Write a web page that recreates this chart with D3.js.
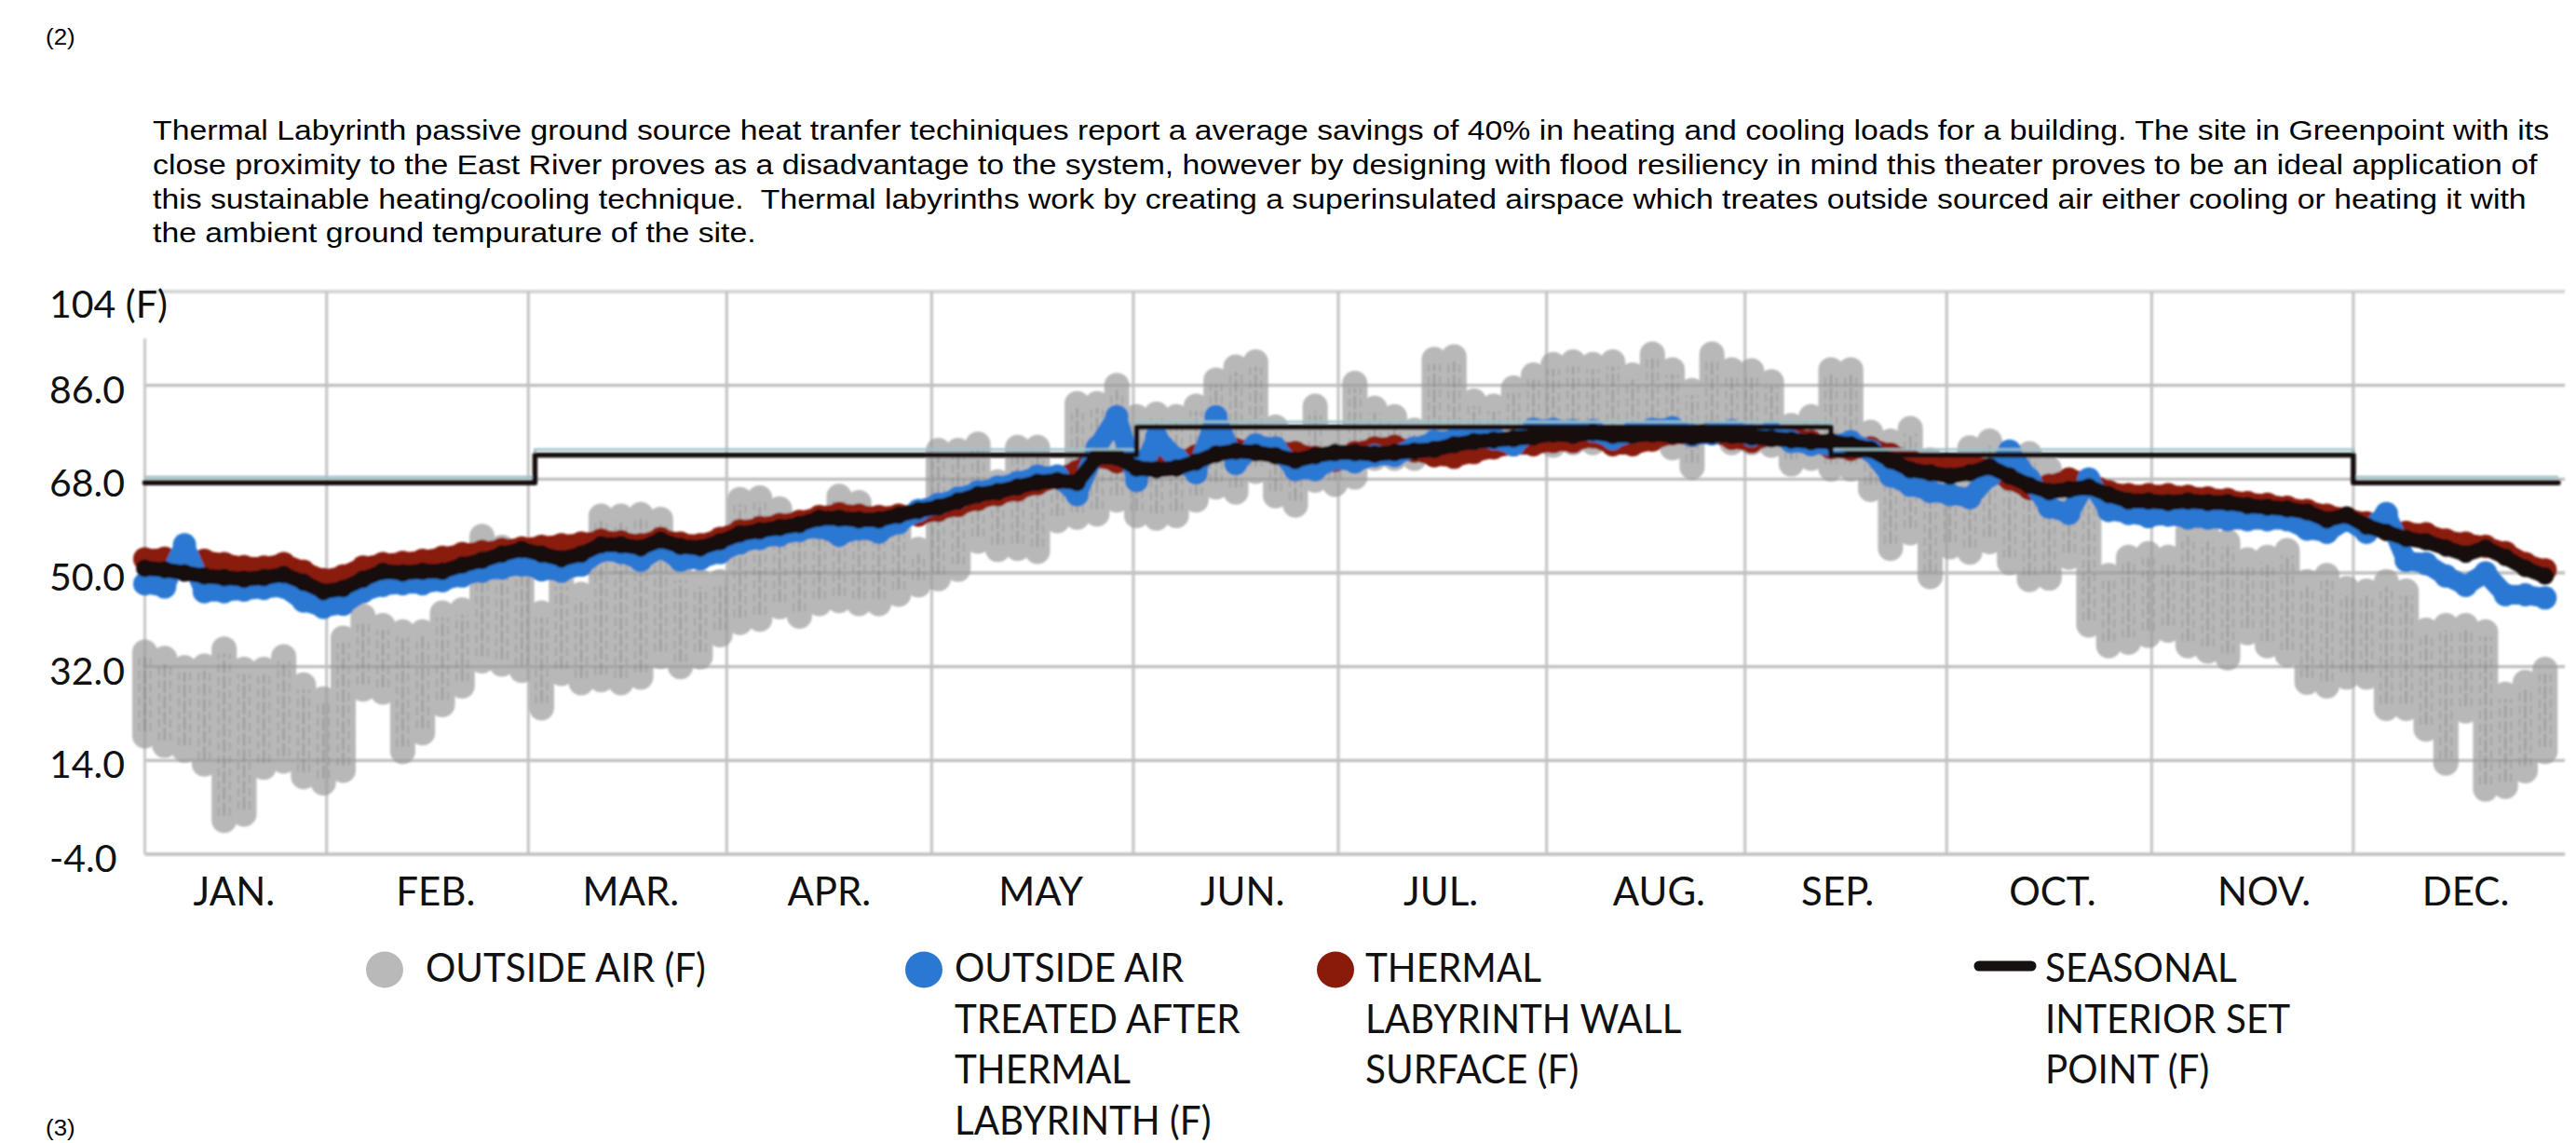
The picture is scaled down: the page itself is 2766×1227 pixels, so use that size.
<!DOCTYPE html>
<html>
<head>
<meta charset="utf-8">
<script src="https://cdn.jsdelivr.net/npm/d3@7"></script>
<style>
  html, body { margin: 0; padding: 0; background: #fff; }
  svg { display: block; }
  .desc { font-family: "Liberation Sans", Arial, sans-serif; font-size: 30px; fill: #000; white-space: pre; }
  .note { font-family: "Liberation Sans", Arial, sans-serif; font-size: 24px; fill: #000; }
  .ylab { font-family: Lato, "Open Sans", sans-serif; font-size: 41px; fill: #111; }
  .mlab { font-family: Lato, "Open Sans", sans-serif; font-size: 42px; fill: #111; }
  .leg  { font-family: Lato, "Open Sans", sans-serif; font-size: 43px; fill: #111; }
</style>
</head>
<body>
<svg id="chart" width="2766" height="1227"></svg>
<script>
// ---- data: one sample every 3 days, Jan 1 .. Dec 29 (°F) ----
const sampleStep = 3;

// outside air: daily extremes per sample
const outsideHigh = [
  34.8, 33.6, 31.8, 32.1, 35.4, 31.5, 31.5, 33.9, 28.5, 25.8, 37.5, 41.7, 39.9, 38.7, 38.7, 42.3, 42.9, 57.0, 54.9, 52.5, 42.3, 48.3, 45.9, 60.9,
  60.9, 61.2, 60.3, 49.5, 48.3, 48.3, 64.1, 64.4, 62.3, 56.9, 60.5, 64.7, 63.5, 57.5, 60.5, 54.5, 73.5, 73.5, 74.7, 67.5, 74.1, 74.1, 67.5, 82.5, 82.5,
  86, 80, 80.5, 80, 82, 87, 89.5, 90.5, 78, 76, 82, 76, 86.4, 81.6, 80, 77.4, 91, 91.5, 83, 82, 85.5, 88, 90, 90.5, 90,
  90.5, 88, 92, 89, 85, 92, 89, 88.8, 86.7, 78.3, 80, 89, 89, 77, 75.3, 77.7, 71.7, 70, 74, 75.3, 72.9, 72.9, 70, 67.5,
  64, 49.5, 53, 53.7, 53, 58, 57, 56, 52.5, 53, 54.3, 48.3, 49.5, 47, 46.5, 48.3, 46.5, 39, 39.9, 39.9, 38.7, 26.7, 29, 31.5
];
const outsideLow = [
  18.7, 16.9, 16.0, 13.3, 2.5, 3.7, 12.7, 13.9, 10.9, 9.7, 12.1, 27.7, 27.1, 15.7, 19.3, 24.7, 28.3, 33.1, 32.5, 31.3, 24.1, 30.7, 28.9, 29.5,
  28.9, 30, 34, 32, 33.9, 38.1, 40.5, 41.1, 43.5, 41.7, 44.1, 44.7, 44.1, 44.1, 45.9, 47.7, 48.9, 50.7, 56.1, 54.5, 54.7, 54.1, 60, 60.7, 61.3,
  64, 61, 60.5, 61, 64, 66.5, 65.5, 69.5, 64.8, 63, 67.8, 67, 68.4, 72, 72, 72, 72.7, 72.5, 74.5, 74.5, 75, 75, 74.5, 75, 75,
  75.7, 76, 76, 74, 70.3, 78, 75, 75, 74.5, 70.9, 72, 70, 70, 66, 54.7, 57.7, 49.3, 55, 54, 56, 52, 48.7, 49, 53,
  40, 36, 36.7, 38, 39, 36, 35, 33.7, 38.5, 36, 34.3, 29, 28.3, 30, 30, 24, 24, 20, 13.5, 23.5, 8.5, 9, 12, 15.7
];

// outside air treated after thermal labyrinth
const treatedAir = [
  47.9, 47.3, 55.4, 46.4, 46.4, 46.7, 47, 47.3, 44.6, 43.4, 44, 46.4, 47.6, 47.9, 47.9, 48.5, 49.4, 50.3, 50.9, 51.5, 50.6, 50.3, 51.5, 54.2,
  53.9, 52.4, 54.8, 52.4, 52.7, 53.9, 55.7, 56.6, 57.2, 58.1, 58.7, 57.2, 58.4, 57.8, 59.6, 62, 63.2, 64.4, 65.6, 66.5, 67.4, 68.6, 68.6, 65, 74,
  80, 67.7, 76, 72, 69.2, 80, 71, 74.6, 74, 69.8, 69.8, 71.9, 71.3, 72.5, 72.5, 74, 75.2, 75.5, 75.8, 75.8, 74.6, 77.6, 77.6, 77.3, 77.3,
  75.8, 77, 77.6, 77.9, 76.4, 76.7, 77.3, 76.4, 77, 75.2, 74.6, 74.6, 75.2, 73.4, 68.6, 66.8, 65.6, 65, 64.4, 68.6, 73.4, 68, 62.6, 61.4,
  68, 62, 61.4, 60.8, 61.1, 60.5, 60.5, 60.2, 60.2, 60.2, 60.2, 58.4, 57.8, 60.2, 57.8, 61.4, 52.4, 51.8, 49.4, 47.6, 50, 45.8, 45.8, 45.2
];

// thermal labyrinth wall surface
const wallSurface = [
  52.7, 52.8, 52.5, 52.4, 51.8, 51.2, 51.1, 51.8, 50.3, 48.7, 49.4, 51.1, 51.8, 52, 52.4, 53, 53.7, 54.1, 54.5, 54.8, 55.1, 55.4, 55.7, 56.3,
  56, 55.4, 56.6, 55.7, 55.4, 56.6, 58.1, 58.7, 59.3, 59.9, 60.8, 61.4, 61.1, 60.8, 61.1, 61.1, 62, 62.9, 64.1, 65, 65.9, 67.1, 68.3, 69.5, 72.2,
  71.3, 71, 70.7, 71.3, 72.5, 73.4, 73.7, 73.7, 73.4, 73.1, 72.2, 71.6, 73.1, 74, 74.3, 73.4, 72.5, 72.2, 73.1, 74, 74.6, 74.6, 75.2, 75.2, 76.1,
  74.6, 74.6, 75.5, 76.7, 76.4, 77, 75.8, 75.2, 76.4, 76.1, 75.2, 74, 73.7, 74, 72.8, 71.6, 70.7, 70.4, 70.7, 69.8, 68, 66.2, 66.8, 68,
  67.4, 65.6, 65, 65, 65, 64.7, 64.4, 64.1, 63.5, 63.2, 62.6, 62, 61.1, 60.5, 59.6, 58.4, 57.8, 57.5, 56.3, 55.7, 55.1, 53.9, 51.8, 50.6
];

// mixed supply trace (dark)
const supplyTrace = [
  50.9, 50.6, 50, 49.4, 49.1, 48.8, 49.1, 49.7, 48.2, 46.4, 47, 48.8, 50.3, 50, 50.3, 50.3, 51.5, 52.4, 53.6, 54.5, 53.6, 52.7, 53.6, 55.4,
  55.4, 54.8, 56.3, 55.1, 54.8, 56, 57.5, 58.1, 58.7, 59.3, 60.5, 60.5, 60.2, 60.2, 61.1, 62, 62.6, 63.8, 65, 65.6, 66.5, 67.4, 67.7, 67.4, 72.2,
  72.2, 70.1, 69.8, 70.1, 71.3, 72.8, 73.4, 73.1, 72.5, 71.6, 72.5, 73.1, 73.1, 72.8, 73.1, 73.4, 73.7, 74.6, 75.2, 75.5, 75.8, 76.1, 76.7, 76.4, 77,
  76.4, 76.4, 76.7, 76.4, 76.1, 76.4, 76.4, 76.1, 75.8, 75.5, 75.2, 75.2, 74.6, 73.7, 71.6, 69.8, 69.2, 68.6, 69.2, 70.4, 68.6, 66.8, 65.6, 66,
  66.5, 65, 63.8, 63.8, 63.5, 63.8, 63.5, 63.5, 62.9, 62.6, 62.3, 61.7, 60.2, 61.1, 59, 57.8, 56.6, 56, 54.8, 53.6, 54.8, 53, 50.9, 49.4
];

// seasonal interior set point (step changes, day of year)
const setPointDays   = [0, 59, 150, 255, 334, 365];
const setPointValues = [67.3, 72.6, 78.0, 72.6, 67.3, 67.3];
const setPointUpper  = [68.4, 73.7, 79.0, 73.7, 68.4, 68.4];

// axes
const yTicks      = [104, 86, 68, 50, 32, 14, -4];
const yTickLabels = ["104 (F)", "86.0", "68.0", "50.0", "32.0", "14.0", "-4.0"];
const gridDays    = [27.5, 58, 88, 119, 149.5, 180.5, 212, 242, 272.5, 303.5, 334];
const months      = ["JAN.", "FEB.", "MAR.", "APR.", "MAY", "JUN.", "JUL.", "AUG.", "SEP.", "OCT.", "NOV.", "DEC."];
const monthLabelDays = [13.5, 44, 73.5, 103.5, 135.5, 166, 196, 229, 256, 288.5, 320.5, 351];

// text
const description = [
  "Thermal Labyrinth passive ground source heat tranfer techiniques report a average savings of 40% in heating and cooling loads for a building. The site in Greenpoint with its",
  "close proximity to the East River proves as a disadvantage to the system, however by designing with flood resiliency in mind this theater proves to be an ideal application of",
  "this sustainable heating/cooling technique.  Thermal labyrinths work by creating a superinsulated airspace which treates outside sourced air either cooling or heating it with",
  "the ambient ground tempurature of the site."
];
const legendItems = [
  { kind: "dot",  color: "#b9b9b9", lines: ["OUTSIDE AIR (F)"] },
  { kind: "dot",  color: "#2a78d2", lines: ["OUTSIDE AIR", "TREATED AFTER", "THERMAL", "LABYRINTH (F)"] },
  { kind: "dot",  color: "#8a1a0a", lines: ["THERMAL", "LABYRINTH WALL", "SURFACE (F)"] },
  { kind: "dash", color: "#141110", lines: ["SEASONAL", "INTERIOR SET", "POINT (F)"] }
];

// ---- layout ----
const svg = d3.select("#chart");
const x = d3.scaleLinear().domain([0, 365]).range([155.5, 2747]);
const y = d3.scaleLinear().domain([-4, 104]).range([917, 313]);
const xEnd = 366;

svg.append("rect").attr("width", 2766).attr("height", 1227).attr("fill", "#fff");

// soft look of the plotted traces
const defs = svg.append("defs");
defs.append("filter").attr("id", "soft")
  .append("feGaussianBlur").attr("stdDeviation", 0.9);

// notes and description (the paragraph face is set wide)
svg.append("text").attr("class", "note").attr("transform", "translate(49,48) scale(1.08,1)").text("(2)");
svg.append("text").attr("class", "note").attr("transform", "translate(49,1219) scale(1.08,1)").text("(3)");
svg.append("g").selectAll("text").data(description).join("text")
  .attr("class", "desc")
  .attr("transform", (d, i) => `translate(164,${150 + i * 36.8}) scale(1.126,1)`)
  .text(d => d);

// ---- grid ----
const grid = svg.append("g").attr("filter", "url(#soft)");
grid.selectAll("line.h").data(yTicks).join("line")
  .attr("class", "h")
  .attr("x1", x(0)).attr("x2", x(xEnd))
  .attr("y1", d => y(d)).attr("y2", d => y(d))
  .attr("stroke", (d, i) => i === 0 ? "#d0d0d0" : "#bdbdbd")
  .attr("stroke-width", 3.3);
grid.selectAll("line.v").data(gridDays).join("line")
  .attr("class", "v")
  .attr("x1", d => x(d)).attr("x2", d => x(d))
  .attr("y1", y(104)).attr("y2", y(-4))
  .attr("stroke", "#c2c2c2")
  .attr("stroke-width", 3);
grid.append("line")
  .attr("x1", x(0)).attr("x2", x(0))
  .attr("y1", y(95)).attr("y2", y(-4))
  .attr("stroke", "#c8c8c8").attr("stroke-width", 3);

// ---- axis labels ----
svg.append("g").selectAll("text").data(yTicks).join("text")
  .attr("class", "ylab")
  .attr("x", 53)
  .attr("y", (d, i) => y(d) + (i === 0 ? 28 : 19))
  .text((d, i) => yTickLabels[i]);
svg.append("g").selectAll("text").data(months).join("text")
  .attr("class", "mlab")
  .attr("text-anchor", "middle")
  .attr("x", (d, i) => x(monthLabelDays[i]))
  .attr("y", 972)
  .text(d => d);

// ---- series ----
const plot = svg.append("g").attr("filter", "url(#soft)");
const idx = d3.range(outsideHigh.length);
const dayOf = i => i * sampleStep;

// outside air: thick rounded daily ranges with darker hourly scribbles
const air = plot.append("g").attr("opacity", 0.7);
air.selectAll("line").data(idx).join("line")
  .attr("x1", i => x(dayOf(i))).attr("x2", i => x(dayOf(i)))
  .attr("y1", i => y(outsideLow[i])).attr("y2", i => y(outsideHigh[i]))
  .attr("stroke", "#9a9a9a").attr("stroke-width", 27).attr("stroke-linecap", "round");
const hatch = plot.append("g").attr("opacity", 0.35);
[-6, 0, 6].forEach(off => {
  hatch.append("g").selectAll("line").data(idx).join("line")
    .attr("x1", i => x(dayOf(i)) + off).attr("x2", i => x(dayOf(i)) + off)
    .attr("y1", i => y(outsideLow[i]) - 5).attr("y2", i => y(outsideHigh[i]) + 5)
    .attr("stroke", "#6f6f6f").attr("stroke-width", off === 0 ? 2.5 : 1.6)
    .attr("stroke-dasharray", off === 0 ? "14 3" : "9 5");
});

function beadedSeries(values, color, r, width) {
  const g = plot.append("g");
  const line = d3.line().x(i => x(dayOf(i))).y(i => y(values[i]));
  g.append("path").attr("d", line(idx))
    .attr("fill", "none").attr("stroke", color)
    .attr("stroke-width", width)
    .attr("stroke-linejoin", "round").attr("stroke-linecap", "round");
  g.selectAll("circle").data(idx).join("circle")
    .attr("cx", i => x(dayOf(i))).attr("cy", i => y(values[i]))
    .attr("r", r).attr("fill", color);
  return g;
}
beadedSeries(wallSurface, "#8a1a0a", 12.5, 21);
beadedSeries(treatedAir, "#2a78d2", 12.5, 21);
beadedSeries(supplyTrace, "#150e0b", 9.5, 16);

// seasonal set point
const stepLine = vals => d3.line().curve(d3.curveStepAfter)
  .x(i => x(setPointDays[i])).y(i => y(vals[i]));
const spIdx = d3.range(setPointDays.length);
plot.append("path").attr("d", stepLine(setPointUpper)(spIdx))
  .attr("fill", "none").attr("stroke", "#9cc1c8").attr("stroke-width", 2.6);
plot.append("path").attr("d", stepLine(setPointValues)(spIdx))
  .attr("fill", "none").attr("stroke", "#141110").attr("stroke-width", 5.5)
  .attr("stroke-linejoin", "round").attr("stroke-linecap", "round");

// ---- legend ----
const legendX = [413, 992, 1434, 2153];
const legendTextX = [457, 1025, 1466, 2196];
const leg = svg.append("g");
legendItems.forEach((item, k) => {
  if (item.kind === "dot") {
    leg.append("ellipse").attr("cx", legendX[k]).attr("cy", 1041)
      .attr("rx", 20).attr("ry", 19.5).attr("fill", item.color);
  } else {
    leg.append("line").attr("x1", legendX[k] - 28).attr("x2", legendX[k] + 28)
      .attr("y1", 1037).attr("y2", 1037)
      .attr("stroke", item.color).attr("stroke-width", 11).attr("stroke-linecap", "round");
  }
  leg.append("g").selectAll("text").data(item.lines).join("text")
    .attr("class", "leg")
    .attr("transform", (d, i) => `translate(${legendTextX[k]},${1054 + i * 54.5}) scale(0.94,1)`)
    .text(d => d);
});
</script>
</body>
</html>
